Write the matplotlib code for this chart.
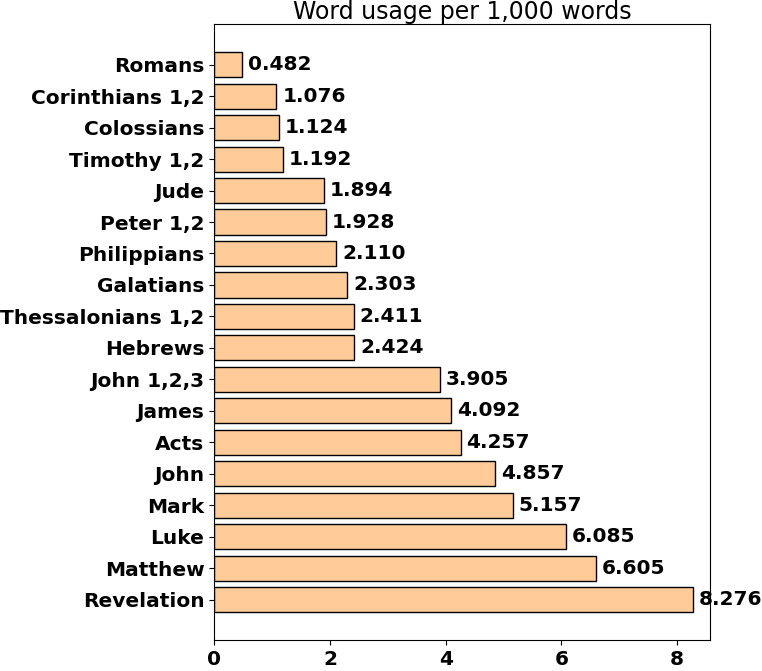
import matplotlib

matplotlib.use("Agg")
import matplotlib.pyplot as plt

books = [
    "Revelation", "Matthew", "Luke", "Mark", "John", "Acts", "James",
    "John 1,2,3", "Hebrews", "Thessalonians 1,2", "Galatians", "Philippians",
    "Peter 1,2", "Jude", "Timothy 1,2", "Colossians", "Corinthians 1,2", "Romans",
]
usage = [
    8.276, 6.605, 6.085, 5.157, 4.857, 4.257, 4.092,
    3.905, 2.424, 2.411, 2.303, 2.110,
    1.928, 1.894, 1.192, 1.124, 1.076, 0.482,
]
xticks = [0, 2, 4, 6, 8]

fig = plt.figure(figsize=(7.62, 6.71), dpi=100)
ax = fig.add_axes([0.281, 0.046, 0.651, 0.918])

bars = ax.barh(books, usage, height=0.8, color="#ffcc99", edgecolor="black", linewidth=1)
for b, v in zip(bars, usage):
    ax.text(v + 0.1, b.get_y() + b.get_height() / 2, f"{v:.3f}",
            va="center", ha="left", fontsize=14.5, fontweight="bold")

ax.set_xlim(0, 8.57)
ax.set_xticks(xticks)
ax.set_title("Word usage per 1,000 words", fontsize=17, pad=1)
for lab in ax.get_xticklabels() + ax.get_yticklabels():
    lab.set_fontweight("bold")
    lab.set_fontsize(14.5)

fig.savefig("out.png", dpi=100)
